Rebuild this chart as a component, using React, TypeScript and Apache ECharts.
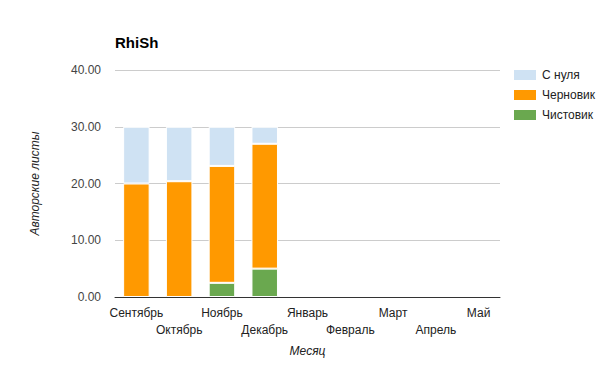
import React, { useEffect, useRef } from "react";
import * as echarts from "echarts";

const months = ["Сентябрь", "Октябрь", "Ноябрь", "Декабрь", "Январь", "Февраль", "Март", "Апрель", "Май"];
const clean = [0, 0, 2.5, 5, 0, 0, 0, 0, 0];
const draft = [20, 20.4, 20.6, 22, 0, 0, 0, 0, 0];
const scratch = [10, 9.6, 6.9, 3, 0, 0, 0, 0, 0];
const yTicks = [0, 10, 20, 30, 40];

const FONT = "Liberation Sans, Arial, sans-serif";
const hideZero = (arr: number[]) => arr.map((v) => (v === 0 ? null : v));

export default function App() {
  const ref = useRef<HTMLDivElement>(null);
  useEffect(() => {
    if (!ref.current) return;
    const chart = echarts.init(ref.current, undefined, { renderer: "svg" });
    const barStyle = (color: string) => ({ color, borderColor: "#ffffff", borderWidth: 1 });
    chart.setOption({
      animation: false,
      textStyle: { fontFamily: FONT },
      title: {
        text: "RhiSh",
        left: 110,
        top: 30,
        textStyle: { fontSize: 15, fontWeight: "bold", color: "#000", fontFamily: FONT },
      },
      legend: {
        orient: "vertical",
        left: 507,
        top: 63,
        itemWidth: 24,
        itemHeight: 12,
        itemGap: 6,
        data: ["С нуля", "Черновик", "Чистовик"],
        textStyle: { fontSize: 12, color: "#222", fontFamily: FONT },
        icon: "rect",
      },
      grid: { left: 115, right: 105, top: 70, bottom: 71, containLabel: false },
      xAxis: {
        type: "category",
        data: months,
        name: "Месяц",
        nameLocation: "middle",
        nameGap: 48,
        nameTextStyle: { fontStyle: "italic", fontSize: 12, color: "#222", fontFamily: FONT },
        axisLine: { lineStyle: { color: "#333" } },
        axisTick: { show: false },
        axisLabel: {
          interval: 0,
          fontSize: 12,
          color: "#222",
          margin: 7,
          lineHeight: 17,
          formatter: (v: string, i: number) => (i % 2 === 1 ? "\n" + v : v + "\n"),
        },
      },
      yAxis: {
        type: "value",
        min: yTicks[0],
        max: yTicks[yTicks.length - 1],
        interval: 10,
        name: "Авторские листы",
        nameLocation: "middle",
        nameGap: 74,
        nameTextStyle: { fontStyle: "italic", fontSize: 12, color: "#222", fontFamily: FONT },
        axisLine: { show: false },
        axisTick: { show: false },
        axisLabel: { fontSize: 12, color: "#444", margin: 14, formatter: (v: number) => v.toFixed(2) },
        splitLine: { lineStyle: { color: "#cccccc" } },
      },
      series: [
        { name: "Чистовик", type: "bar", stack: "t", data: hideZero(clean), itemStyle: barStyle("#6aa84f"), barCategoryGap: "38%" },
        { name: "Черновик", type: "bar", stack: "t", data: hideZero(draft), itemStyle: barStyle("#ff9900") },
        { name: "С нуля", type: "bar", stack: "t", data: hideZero(scratch), itemStyle: barStyle("#cfe2f3") },
      ],
    });
    return () => chart.dispose();
  }, []);
  return <div ref={ref} style={{ width: 605, height: 368, position: "absolute", left: 0, top: 0, background: "#fff" }} />;
}
